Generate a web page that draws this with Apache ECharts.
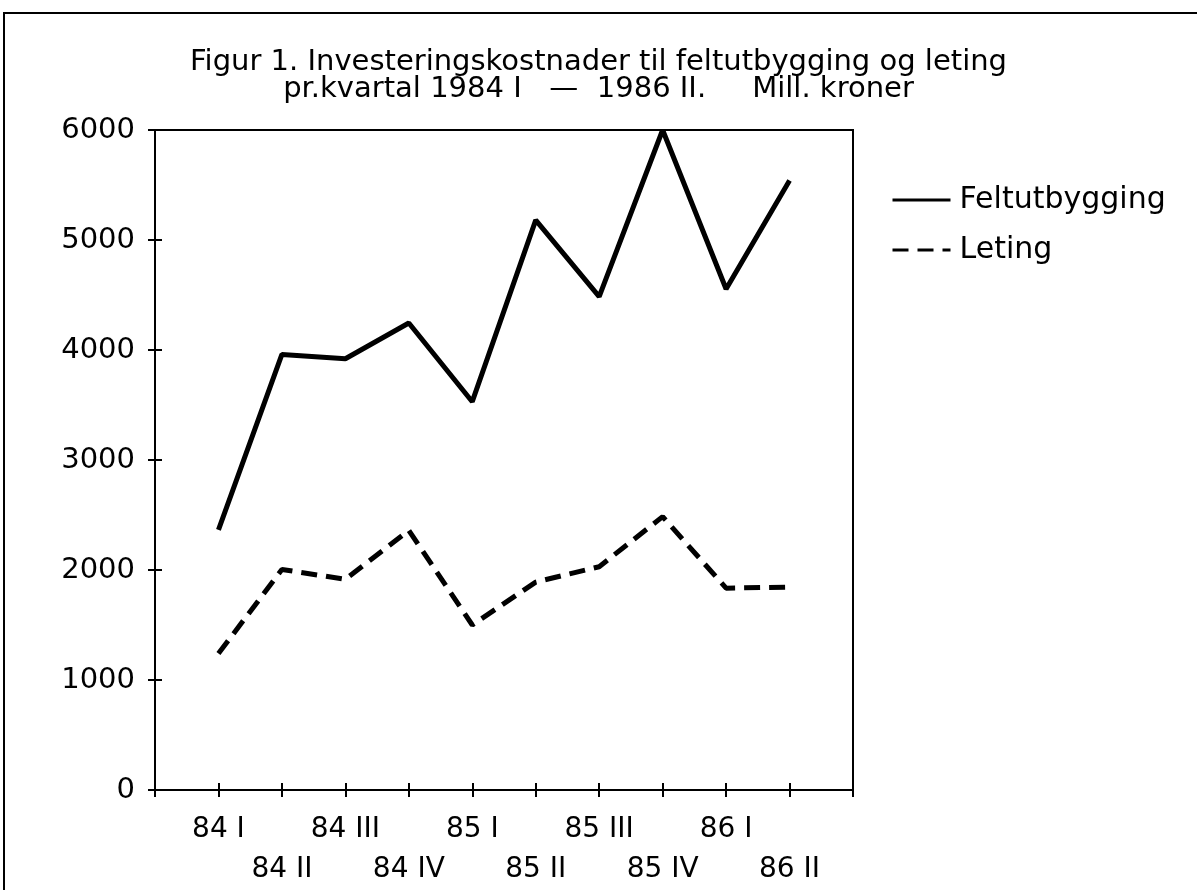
<!DOCTYPE html>
<html>
<head>
<meta charset="utf-8">
<script src="https://cdn.jsdelivr.net/npm/echarts@6/dist/echarts.min.js"></script>
<style>
html,body{margin:0;padding:0;background:#fff;}
#chart{width:1197px;height:890px;}
</style>
</head>
<body>
<div id="chart"></div>
<script>
// Data
var categories = ['84 I','84 II','84 III','84 IV','85 I','85 II','85 III','85 IV','86 I','86 II'];
var feltutbygging = [2365, 3960, 3920, 4245, 3530, 5180, 4485, 6000, 4555, 5540];
var leting = [1240, 2005, 1915, 2360, 1500, 1890, 2030, 2485, 1835, 1845];
var yTicks = [0, 1000, 2000, 3000, 4000, 5000, 6000];

// the axis has one empty slot at each end
var axisCats = [''].concat(categories).concat(['']);
function pad(arr){ return [null].concat(arr).concat([null]); }

var FONT = 'DejaVu Sans';
var chart = echarts.init(document.getElementById('chart'), null, {renderer:'canvas'});
chart.setOption({
  backgroundColor: '#fff',
  animation: false,
  title: {
    text: 'Figur 1. Investeringskostnader til feltutbygging og leting\npr.kvartal 1984 I   \u2014  1986 II.     Mill. kroner',
    left: 'center',
    top: 44,
    textStyle: {fontFamily: FONT, fontSize: 29, fontWeight: 'normal', color: '#000', lineHeight: 27, align: 'center'}
  },
  legend: {
    orient: 'vertical',
    left: 886,
    top: 180,
    itemWidth: 58,
    itemHeight: 20,
    itemGap: 20,
    itemStyle: {color: 'transparent', borderWidth: 0, opacity: 0},
    lineStyle: {width: 3},
    textStyle: {fontFamily: FONT, fontSize: 30, color: '#000', padding: [0,0,0,4]},
    data: ['Feltutbygging', 'Leting']
  },
  graphic: [{
    type: 'rect',
    shape: {x: 4, y: 13, width: 1400, height: 1000},
    style: {fill: null, stroke: '#000', lineWidth: 2},
    silent: true
  }],
  grid: {
    left: 155, right: 344, top: 130, bottom: 100,
    show: true, borderColor: '#000', borderWidth: 2, backgroundColor: 'transparent'
  },
  xAxis: [{
    type: 'category',
    data: axisCats,
    boundaryGap: false,
    axisLine: {lineStyle: {color: '#000', width: 2}},
    axisTick: {show: true, length: 7, interval: 0, lineStyle: {color: '#000', width: 2}},
    axisLabel: {
      interval: 0, color: '#000', fontFamily: FONT, fontSize: 28, margin: 20, lineHeight: 40,
      formatter: function(v, i){ return (i % 2 === 0) ? '\n' + v : v; }
    },
    splitLine: {show: false}
  }, {
    type: 'category',
    data: axisCats,
    boundaryGap: false,
    position: 'bottom',
    axisLine: {show: false},
    axisTick: {show: true, inside: true, length: 7, interval: 0, lineStyle: {color: '#000', width: 2}},
    axisLabel: {show: false},
    splitLine: {show: false}
  }],
  yAxis: [{
    type: 'value',
    min: yTicks[0], max: yTicks[yTicks.length-1], interval: 1000,
    axisLine: {show: true, lineStyle: {color: '#000', width: 2}},
    axisTick: {show: true, length: 7, lineStyle: {color: '#000', width: 2}},
    axisLabel: {color: '#000', fontFamily: FONT, fontSize: 29, margin: 20,
      formatter: function(v){ return String(v); }},
    splitLine: {show: false}
  }, {
    type: 'value',
    min: yTicks[0], max: yTicks[yTicks.length-1], interval: 1000,
    position: 'left',
    axisLine: {show: false},
    axisTick: {show: true, inside: true, length: 7, lineStyle: {color: '#000', width: 2}},
    axisLabel: {show: false},
    splitLine: {show: false}
  }],
  series: [{
    name: 'Feltutbygging',
    type: 'line',
    data: pad(feltutbygging),
    symbol: 'none',
    connectNulls: false,
    lineStyle: {color: '#000', width: 5, type: 'solid'},
    itemStyle: {color: '#000'}
  }, {
    name: 'Leting',
    type: 'line',
    data: pad(leting),
    symbol: 'none',
    connectNulls: false,
    lineStyle: {color: '#000', width: 5, type: [16, 9]},
    itemStyle: {color: '#000'}
  }]
});
</script>
</body>
</html>
